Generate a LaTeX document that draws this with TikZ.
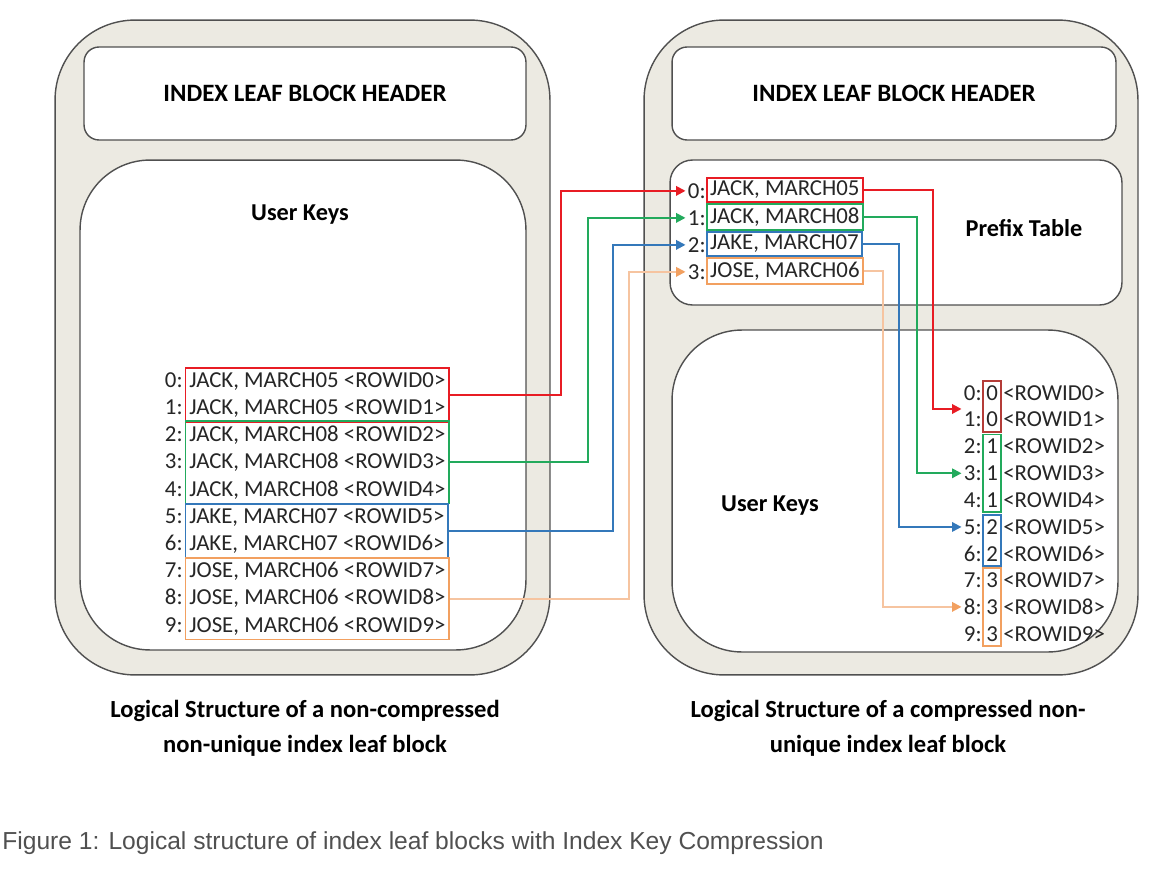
\documentclass[tikz,border=0pt]{standalone}
\usepackage{fontspec}
\setmainfont{Carlito}
\newfontfamily\capfont{Liberation Sans}
\usetikzlibrary{arrows.meta, positioning, fit, calc}

\definecolor{blockfill}{RGB}{236,234,226}
\definecolor{edgegray}{RGB}{80,80,80}
\definecolor{textgray}{RGB}{38,38,38}
\definecolor{capgray}{RGB}{80,80,80}
\definecolor{keyred}{RGB}{232,28,36}
\definecolor{darkred}{RGB}{180,60,56}
\definecolor{keygreen}{RGB}{34,170,92}
\definecolor{keyblue}{RGB}{52,120,186}
\definecolor{keyorange}{RGB}{242,160,96}
\definecolor{paleorange}{RGB}{246,196,160}

\begin{document}
\begin{tikzpicture}[
    x=0.02cm, y=-0.02cm,
    % Styles
    block/.style={rectangle, draw=edgegray, fill=blockfill, rounded corners=1.6cm, line width=0.8pt},
    headbox/.style={rectangle, draw=edgegray, fill=white, rounded corners=0.3cm, line width=0.8pt, font=\fontsize{14.2}{17}\selectfont\bfseries},
    keyarea/.style={rectangle, draw=edgegray, fill=white, rounded corners=#1, line width=0.8pt},
    title/.style={font=\fontsize{13.8}{16}\selectfont\bfseries, inner sep=0pt},
    keytxt/.style={inner sep=0pt, font=\fontsize{13}{15}\selectfont, text=textgray},
    groupbox/.style={rectangle, draw=#1, line width=1.1pt, inner xsep=2pt, inner ysep=2.4pt},
    prefbox/.style={keytxt, draw=#1, line width=1.1pt, inner xsep=1.8pt, inner ysep=2pt},
    link/.style={-{Triangle[length=5.4pt,width=5.4pt]}, line width=1.1pt, draw=#1, shorten >=1.2pt},
    captxt/.style={font=\fontsize{14}{20}\selectfont\bfseries, align=center},
]
\useasboundingbox (0,0) rectangle (1168,868);

% === LEFT BLOCK (non-compressed) ===
\node[block, minimum width=9.9cm, minimum height=13.1cm] (lblock) at (302.5,347.5) {};
\node[headbox, minimum width=8.84cm, minimum height=1.86cm] (lhead) at (305,93.5) {INDEX LEAF BLOCK HEADER};
\node[keyarea=1.4cm, minimum width=8.92cm, minimum height=9.8cm] (lkeys) at (303,405) {};
\node[title] (lkeytitle) at (300,215) {User Keys};

\foreach \i/\name in {0/{JACK, MARCH05},1/{JACK, MARCH05},2/{JACK, MARCH08},3/{JACK, MARCH08},4/{JACK, MARCH08},
                      5/{JAKE, MARCH07},6/{JAKE, MARCH07},7/{JOSE, MARCH06},8/{JOSE, MARCH06},9/{JOSE, MARCH06}} {
  \node[keytxt, anchor=mid east] (ln\i) at (183,383+27.2*\i) {\i:};
  \node[keytxt, anchor=mid west] (lk\i) at (189,383+27.2*\i) {\name\ <ROWID\i>};
}
\node[groupbox=keyred, fit=(lk0)(lk1)] (lred) {};
\node[groupbox=keygreen, fit=(lk2)(lk4)] (lgreen) {};
\node[groupbox=keyblue, fit=(lk5)(lk6)] (lblue) {};
\node[groupbox=keyorange, fit=(lk7)(lk9)] (lorange) {};

% === RIGHT BLOCK (compressed) ===
\node[block, minimum width=9.88cm, minimum height=13.1cm] (rblock) at (891,347.5) {};
\node[headbox, minimum width=8.88cm, minimum height=1.86cm] (rhead) at (894,93.5) {INDEX LEAF BLOCK HEADER};
\node[keyarea=0.45cm, minimum width=9.04cm, minimum height=2.9cm] (prefix) at (896,232.5) {};
\node[title] (preftitle) at (1024,228) {Prefix Table};
\node[keyarea=1.4cm, minimum width=8.92cm, minimum height=6.44cm] (rkeys) at (895,491) {};
\node[title] (rkeytitle) at (770,506) {User Keys};

% prefix table entries
\foreach \i/\name/\col in {0/{JACK, MARCH05}/keyred,1/{JACK, MARCH08}/keygreen,2/{JAKE, MARCH07}/keyblue,3/{JOSE, MARCH06}/keyorange} {
  \node[prefbox=\col, anchor=west] (pk\i) at (706,190+27*\i) {\name};
  \node[keytxt, anchor=east] (pn\i) at ([yshift=-0.5pt]pk\i.west) {\i:};
}

% compressed user keys
\foreach \i/\d in {0/0,1/0,2/1,3/1,4/1,5/2,6/2,7/3,8/3,9/3} {
  \node[keytxt, anchor=mid east] (rn\i) at (982,396+26.8*\i) {\i:};
  \node[keytxt, anchor=mid west] (rd\i) at (986,396+26.8*\i) {\d};
  \node[keytxt, anchor=mid west] (rr\i) at (1003,396+26.8*\i) {<ROWID\i>};
}
\node[groupbox=darkred, fit=(rd0)(rd1), inner xsep=1.5pt] (rred) {};
\node[groupbox=keygreen, fit=(rd2)(rd4), inner xsep=1.5pt] (rgreen) {};
\node[groupbox=keyblue, fit=(rd5)(rd6), inner xsep=1.5pt] (rblue) {};
\node[groupbox=keyorange, fit=(rd7)(rd9), inner xsep=1.5pt] (rorange) {};

% === LINKS: user keys -> prefix table ===
\draw[link=keyred] (lred.east) -- ++(111,0) |- (pn0.west);
\draw[link=keygreen] (lgreen.east) -- ++(138,0) |- (pn1.west);
\draw[link=keyblue] (lblue.east) -- ++(164,0) |- (pn2.west);
\draw[link=paleorange, -{Triangle[length=5.4pt,width=5.4pt,color=keyorange]}] (lorange.east) -- ++(179,0) |- (pn3.west);

% === LINKS: prefix table -> compressed keys ===
\draw[link=keyred] (pk0.east) -- ++(69,0) |- ($(rn0.west)!0.6!(rn1.west)$);
\draw[link=keygreen] (pk1.east) -- ++(53,0) |- (rn3.west);
\draw[link=keyblue] (pk2.east) -- ++(36,0) |- (rn5.west);
\draw[link=paleorange, -{Triangle[length=5.4pt,width=5.4pt,color=keyorange]}] (pk3.east) -- ++(19,0) |- (rn8.west);

% === CAPTIONS ===
\node[captxt] (lcap) at (305,728) {Logical Structure of a non-compressed\\non-unique index leaf block};
\node[captxt] (rcap) at (888,728) {Logical Structure of a compressed non-\\unique index leaf block};
\node[font=\capfont\fontsize{14}{16}\selectfont, text=capgray, anchor=west, inner sep=0pt] (figcap) at (2,843)
  {Figure 1: Logical structure of index leaf blocks with Index Key Compression};

\end{tikzpicture}
\end{document}
